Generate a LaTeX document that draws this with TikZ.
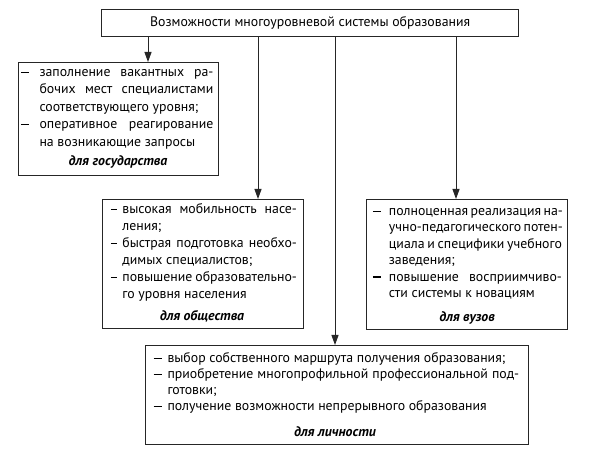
\documentclass[tikz,border=0pt]{standalone}
\usepackage{fontspec}
\setmainfont{PT Sans}
\usetikzlibrary{arrows.meta}
\tikzset{
 box/.style={draw=black!85, line width=1.3pt, inner sep=0pt, anchor=north west},
 txt/.style={inner sep=0pt, anchor=base west, font=\fontsize{13.8}{17}\selectfont},
 lbl/.style={inner sep=0pt, anchor=base, font=\fontsize{13.8}{17}\selectfont\bfseries\itshape},
 arr/.style={line width=1pt, draw=black!85, -{Triangle[length=10pt,width=7pt]}},
}
\newcommand{\dsh}[2]{\makebox[#1][l]{\rule[3.5pt]{#2}{1.2pt}}}
\newcommand{\JL}[2]{\hbox to #1{#2}}
\newcommand{\RL}[1]{\hbox{#1}}
\newcommand{\lines}[2]{\vbox{\lineskiplimit=-30pt\baselineskip=#1\relax #2}}
\begin{document}
\begin{tikzpicture}[x=1pt,y=-1pt]
\useasboundingbox (0,0) rectangle (600,454);
\node[box, minimum width=417pt, minimum height=27pt, font=\fontsize{13.8}{17}\selectfont] (top) at (101,9) {Возможности многоуровневой системы образования};

\node[box, minimum width=200pt, minimum height=113pt] (gov) at (18,62) {};
\node[txt] (govt) at (20.7,146.5) {\lines{17.5pt}{%
 \JL{192.5pt}{\dsh{18.6pt}{8.5pt}заполнение вакантных ра-}%
 \JL{192.5pt}{\kern18.6pt бочих мест специалистами}%
 \RL{\kern18.6pt соответствующего уровня;}%
 \JL{192.5pt}{\dsh{18.6pt}{8.5pt}оперативное реагирование}%
 \RL{\kern18.6pt на возникающие запросы}}};
\node[lbl] (govl) at (118,165.5) {для государства};

\node[box, minimum width=201pt, minimum height=129pt] (soc) at (102,199) {};
\node[txt] (soct) at (110.7,298.5) {\lines{17pt}{%
 \JL{186pt}{\dsh{11.5pt}{6.5pt}высокая мобильность насе-}%
 \RL{\kern11.5pt ления;}%
 \JL{186pt}{\dsh{11.5pt}{6.5pt}быстрая подготовка необхо-}%
 \RL{\kern11.5pt димых специалистов;}%
 \JL{186pt}{\dsh{11.5pt}{6.5pt}повышение образовательно-}%
 \RL{\kern11.5pt го уровня населения}}};
\node[lbl] (socl) at (202,320.5) {для общества};

\node[box, minimum width=201pt, minimum height=130pt] (vuz) at (366,199) {};
\node[txt] (vuzt) at (372.7,297.5) {\lines{16.4pt}{%
 \JL{189pt}{\dsh{16pt}{8pt}полноценная реализация на-}%
 \JL{189pt}{\kern16pt учно-педагогического потен-}%
 \JL{189pt}{\kern16pt циала и специфики учебного}%
 \RL{\kern16pt заведения;}%
 \JL{189pt}{\dsh{16pt}{8pt}повышение восприимчиво-}%
 \RL{\kern16pt сти системы к новациям}}};
\node[lbl] (vuzl) at (467,321.5) {для вузов};

\node[box, minimum width=383pt, minimum height=99pt] (pers) at (145,345) {};
\node[txt] (perst) at (153.3,410.5) {\lines{16pt}{%
 \RL{\dsh{14pt}{8pt}выбор собственного маршрута получения образования;}%
 \JL{365.7pt}{\dsh{14pt}{8pt}приобретение многопрофильной профессиональной под-}%
 \RL{\kern14pt готовки;}%
 \RL{\dsh{14pt}{8pt}получение возможности непрерывного образования}}};
\node[lbl] (persl) at (335,436.5) {для личности};

\coordinate (x1) at (148,0);
\coordinate (x2) at (258,0);
\coordinate (x3) at (335,0);
\coordinate (x4) at (456,0);
\draw[arr] (top.south -| x1) -- (gov.north -| x1);
\draw[arr] (top.south -| x2) -- (soc.north -| x2);
\draw[arr] (top.south -| x3) -- (pers.north -| x3);
\draw[arr] (top.south -| x4) -- (vuz.north -| x4);
\end{tikzpicture}
\end{document}
